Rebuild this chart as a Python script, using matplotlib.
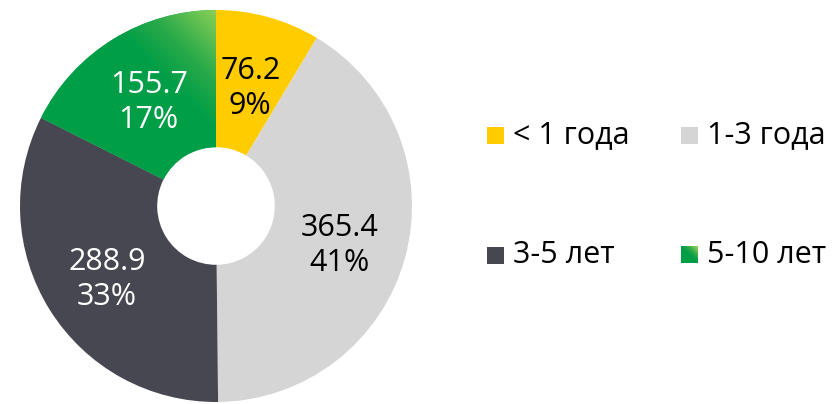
import matplotlib.pyplot as plt
import numpy as np
from matplotlib.colors import LinearSegmentedColormap
from matplotlib.patches import Rectangle

plt.rcParams["font.family"] = ["Open Sans", "DejaVu Sans"]

categories = ["< 1 года", "1-3 года", "3-5 лет", "5-10 лет"]
values = [76.2, 365.4, 288.9, 155.7]
percents = ["9%", "41%", "33%", "17%"]
colors = ["#FFCC00", "#D5D5D5", "#474751", "#009E47"]
text_colors = ["black", "black", "white", "white"]

green_cmap = LinearSegmentedColormap.from_list(
    "g", [(0, "#009E47"), (0.4, "#2AAA4A"), (1, "#8ED257")])

W, H = 836, 404
fig = plt.figure(figsize=(W / 100, H / 100), dpi=100)

# donut centre / radius in pixels (from top-left)
cx, cy, R = 216, 206, 196
ax = fig.add_axes([(cx - R) / W, (H - cy - R) / H, 2 * R / W, 2 * R / H])

wedges, _ = ax.pie(values, colors=colors, startangle=90, counterclock=False, radius=1,
                   wedgeprops=dict(width=0.70, linewidth=0))

# gradient fill for the green wedge (light towards the top-right corner)
xs = np.linspace(-1, 1, 400)
X, Y = np.meshgrid(xs, xs)
t = np.clip(((X + Y) / np.sqrt(2) - 0.28) / (0.72 - 0.28), 0, 1)
im = ax.imshow(t, cmap=green_cmap, extent=(-1, 1, -1, 1), origin="lower", zorder=2)
im.set_clip_path(wedges[3])

ax.set_xlim(-1, 1)
ax.set_ylim(-1, 1)
ax.set_aspect("equal")
ax.axis("off")

total = sum(values)
start = 90.0
for i, (v, p) in enumerate(zip(values, percents)):
    ang = start - v / total * 360 / 2
    start -= v / total * 360
    r = 0.655
    x, y = r * np.cos(np.radians(ang)), r * np.sin(np.radians(ang)) - 0.03
    ax.text(x, y, f"{v}\n{p}", ha="center", va="center", fontsize=22,
            color=text_colors[i], linespacing=1.22, zorder=5)

# legend, drawn by hand in pixel coordinates
lax = fig.add_axes([0, 0, 1, 1])
lax.axis("off")
pos = [(487, 135), (681, 135), (487, 255), (681, 255)]
sq = 17
for i, (lab, (px, py)) in enumerate(zip(categories, pos)):
    if i == 3:
        g = np.linspace(0, 1, 50)
        GX, GY = np.meshgrid(g, g)
        tt = np.clip((GX + (1 - GY)) / 2 * 2.2 - 1.1, 0, 1)
        lax.imshow(tt, cmap=green_cmap, extent=(px, px + sq, py + sq / 2, py - sq / 2),
                   origin="upper", zorder=2, vmin=0, vmax=1)
    else:
        lax.add_patch(Rectangle((px, py - sq / 2), sq, sq, color=colors[i], lw=0))
    lax.text(px + 26, py, lab, ha="left", va="center", fontsize=22, color="black")
lax.set_xlim(0, W)
lax.set_ylim(H, 0)

fig.savefig("out.png", dpi=100)
